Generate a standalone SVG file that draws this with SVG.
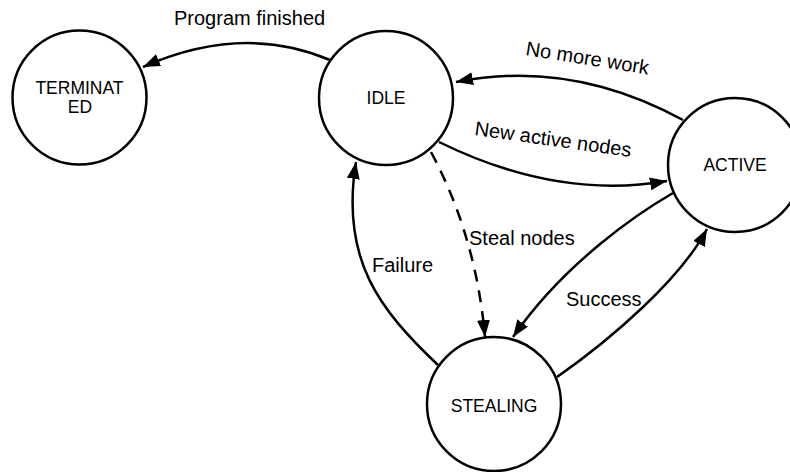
<svg xmlns="http://www.w3.org/2000/svg" width="790" height="472" viewBox="0 0 790 472">
  <style>
    .state { fill: #ffffff; stroke: #000000; stroke-width: 2.5; }
    .state-label { font-family: "Liberation Sans", Arial, sans-serif; font-size: 17.5px; fill: #000000; text-anchor: middle; }
    .edge { fill: none; stroke: #000000; stroke-width: 2.5; marker-end: url(#arrow); }
    .dashed { stroke-dasharray: 12 9; }
    .edge-label { font-family: "Liberation Sans", Arial, sans-serif; font-size: 20px; fill: #000000; }
  </style>
  <defs>
    <!-- filled triangular arrowhead, tip at the path end -->
    <marker id="arrow" markerUnits="userSpaceOnUse" markerWidth="19" markerHeight="14" refX="17" refY="6.5" orient="auto">
      <path d="M0,0 L17,6.5 L0,13 Z" fill="#000000"/>
    </marker>
  </defs>
  <rect width="790" height="472" fill="#ffffff"/>

  <g id="connectors">
    <!-- IDLE -> TERMINATED -->
    <path class="edge" d="M330,60 Q243,23 143,67"/>
    <!-- ACTIVE -> IDLE -->
    <path class="edge" d="M683,120 Q571,59 456,82"/>
    <!-- IDLE -> ACTIVE -->
    <path class="edge" d="M439,142 Q557,200 667,181"/>
    <!-- IDLE -> STEALING (dashed) -->
    <path class="edge dashed" d="M431,152 Q476,236 485,337"/>
    <!-- STEALING -> IDLE -->
    <path class="edge" d="M438,365 C380,310 340,260 356,162"/>
    <!-- ACTIVE -> STEALING -->
    <path class="edge" d="M673,193 C640,212 565,262 513,337"/>
    <!-- STEALING -> ACTIVE -->
    <path class="edge" d="M557,377 C610,340 680,280 707,229"/>
  </g>

  <g id="edge-labels">
    <text class="edge-label" x="174" y="25">Program finished</text>
    <text class="edge-label" x="525" y="55" transform="rotate(9 525 55)">No more work</text>
    <text class="edge-label" x="474" y="135" transform="rotate(8 474 135)">New active nodes</text>
    <text class="edge-label" x="469" y="245">Steal nodes</text>
    <text class="edge-label" x="372" y="272">Failure</text>
    <text class="edge-label" x="566" y="306">Success</text>
  </g>

  <g id="node-terminated">
    <circle class="state" cx="79.5" cy="97.5" r="67"/>
    <text class="state-label" x="79.5" y="94">TERMINAT</text>
    <text class="state-label" x="80" y="113">ED</text>
  </g>
  <g id="node-idle">
    <circle class="state" cx="386" cy="98" r="67"/>
    <text class="state-label" x="386" y="104">IDLE</text>
  </g>
  <g id="node-active">
    <circle class="state" cx="735" cy="165" r="67"/>
    <text class="state-label" x="735" y="171">ACTIVE</text>
  </g>
  <g id="node-stealing">
    <circle class="state" cx="494" cy="404" r="67"/>
    <text class="state-label" x="494" y="412">STEALING</text>
  </g>
</svg>
